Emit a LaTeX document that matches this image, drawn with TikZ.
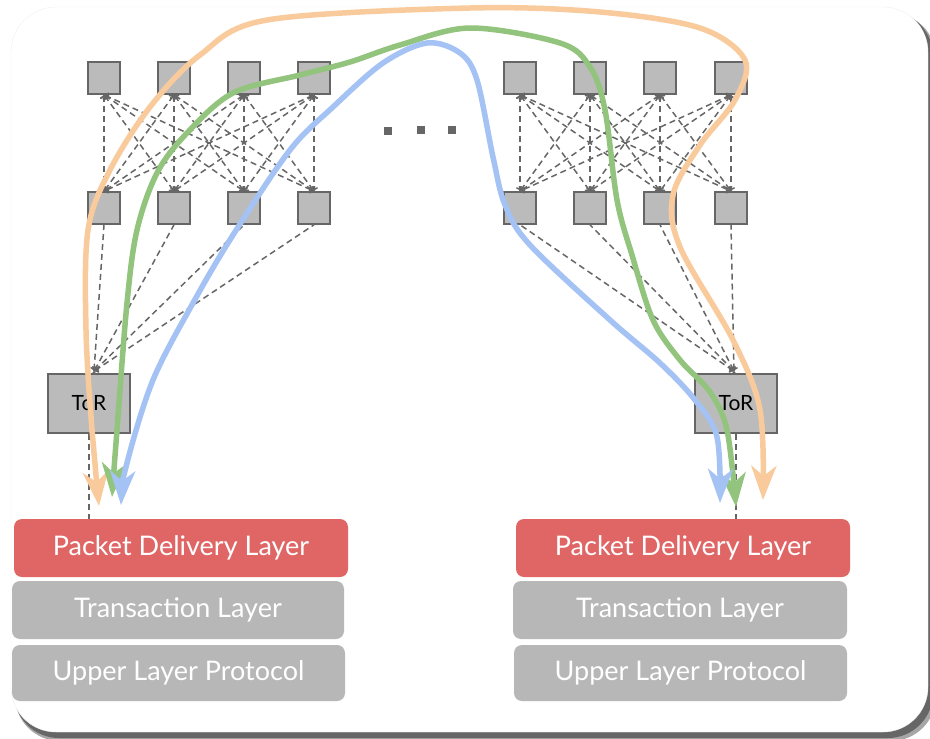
\documentclass[tikz,border=0pt]{standalone}
\usepackage{fontspec}
\setmainfont{Lato}
\usetikzlibrary{arrows.meta}

\definecolor{swgray}{HTML}{BBBBBB}
\definecolor{swline}{HTML}{666666}
\definecolor{pdred}{HTML}{E06666}
\definecolor{laygray}{HTML}{B7B7B7}
\definecolor{flowor}{HTML}{F9CB9C}
\definecolor{flowgr}{HTML}{93C47D}
\definecolor{flowbl}{HTML}{A4C2F4}

\tikzset{
  sw/.style={draw=swline, fill=swgray, line width=1.6pt, minimum size=32pt, inner sep=0pt},
  tor/.style={sw, minimum width=82pt, minimum height=59pt, font=\fontsize{21}{24}\selectfont},
  dot/.style={fill=swline, minimum size=8pt, inner sep=0pt},
  mesh/.style={draw=swline, dash pattern=on 6pt off 4pt, line width=1.5pt, {To[length=4pt,width=8pt]}-{To[length=4pt,width=8pt]}},
  uplink/.style={draw=swline, dash pattern=on 6pt off 4pt, line width=1.5pt, {To[length=4pt,width=8pt]}-},
  downlink/.style={draw=swline, dash pattern=on 6pt off 4pt, line width=1.5pt},
  layer/.style={rounded corners=8pt, minimum height=58pt, text=white, font=\fontsize{27}{32}\selectfont},
  flow/.style={line width=5.5pt, {Stealth[length=34pt,width=25pt,inset=10pt]}-{Stealth[length=34pt,width=25pt,inset=10pt]}},
}

\begin{document}
\begin{tikzpicture}[x=1pt,y=-1pt]
  \useasboundingbox (0,0) rectangle (930,739);
  % frame
  \fill[black!35, rounded corners=45pt] (15,13) rectangle (936,741);
  \fill[black!60, rounded corners=45pt] (14,11) rectangle (933,738);
  \filldraw[fill=white, draw=black!6, rounded corners=45pt] (11,7) rectangle (928,732);
  % left spines
  \node[sw] (ls1) at (104,78) {};
  \node[sw] (ls2) at (174,78) {};
  \node[sw] (ls3) at (244,78) {};
  \node[sw] (ls4) at (314,78) {};
  % left leaves
  \node[sw] (ll1) at (104,208) {};
  \node[sw] (ll2) at (174,208) {};
  \node[sw] (ll3) at (244,208) {};
  \node[sw] (ll4) at (314,208) {};
  % right spines
  \node[sw] (rs1) at (520,78) {};
  \node[sw] (rs2) at (590,78) {};
  \node[sw] (rs3) at (660,78) {};
  \node[sw] (rs4) at (731,78) {};
  % right leaves
  \node[sw] (rl1) at (520,208) {};
  \node[sw] (rl2) at (590,208) {};
  \node[sw] (rl3) at (660,208) {};
  \node[sw] (rl4) at (731,208) {};
  % more pods
  \node[dot] (dot1) at (388,131) {};
  \node[dot] (dot2) at (421,130) {};
  \node[dot] (dot3) at (452,130) {};
  % tors
  \node[tor] (torL) at (89,403.5) {ToR};
  \node[tor] (torR) at (736,403.5) {ToR};
  % host stacks
  \node[layer, fill=pdred, minimum width=334pt] (pdL) at (181,548) {Packet Delivery Layer};
  \node[layer, fill=laygray, minimum width=332pt] (trL) at (178,610) {Transaction Layer};
  \node[layer, fill=laygray, minimum width=333pt, minimum height=56pt] (upL) at (178.5,673) {Upper Layer Protocol};
  \node[layer, fill=pdred, minimum width=334pt] (pdR) at (683,548) {Packet Delivery Layer};
  \node[layer, fill=laygray, minimum width=334pt] (trR) at (680,610) {Transaction Layer};
  \node[layer, fill=laygray, minimum width=333pt, minimum height=56pt] (upR) at (680.5,673) {Upper Layer Protocol};
  % left mesh
  \path[mesh] (ls1.south) edge (ll1.north) edge (ll2.north) edge (ll3.north) edge (ll4.north);
  \path[mesh] (ls2.south) edge (ll1.north) edge (ll2.north) edge (ll3.north) edge (ll4.north);
  \path[mesh] (ls3.south) edge (ll1.north) edge (ll2.north) edge (ll3.north) edge (ll4.north);
  \path[mesh] (ls4.south) edge (ll1.north) edge (ll2.north) edge (ll3.north) edge (ll4.north);
  % right mesh
  \path[mesh] (rs1.south) edge (rl1.north) edge (rl2.north) edge (rl3.north) edge (rl4.north);
  \path[mesh] (rs2.south) edge (rl1.north) edge (rl2.north) edge (rl3.north) edge (rl4.north);
  \path[mesh] (rs3.south) edge (rl1.north) edge (rl2.north) edge (rl3.north) edge (rl4.north);
  \path[mesh] (rs4.south) edge (rl1.north) edge (rl2.north) edge (rl3.north) edge (rl4.north);
  % leaf to tor
  \coordinate (torLin) at ([xshift=5pt,yshift=2pt]torL.north);
  \coordinate (torRin) at ([xshift=-2pt,yshift=2pt]torR.north);
  \path[uplink] (torLin) edge (ll1.south) edge (ll2.south) edge (ll3.south) edge (ll4.south);
  \path[uplink] (torRin) edge (rl1.south) edge (rl2.south) edge (rl3.south) edge (rl4.south);
  % tor to host
  \draw[downlink] (torL.south) -- (torL.south |- pdL.north);
  \draw[downlink] (torR.south) -- (torR.south |- pdR.north);
  % flows
  \coordinate (oA) at (99,506);
  \coordinate (oB) at (763,500);
  \coordinate (gA) at (112,497);
  \coordinate (gB) at (736,507);
  \coordinate (bA) at (121,505);
  \coordinate (bB) at (720,503);
  \draw[flow, flowor] plot[smooth, tension=0.55] coordinates {(oA) (92,430) (86,330) (88,230) (110,170) (150,107) (200,55) (267,20) (470,8) (600,12) (700,28) (745,60) (735,100) (700,145) (673,195) (680,247) (733,340) (760,410) (oB)};
  \draw[flow, flowgr] plot[smooth, tension=0.55] coordinates {(gA) (117,430) (127,303) (137,230) (157,173) (187,133) (233,93) (300,75) (350,62) (400,45) (470,28) (560,43) (590,67) (605,110) (617,200) (632,255) (653,320) (680,360) (710,392) (727,430) (gB)};
  \draw[flow, flowbl] plot[smooth, tension=0.55] coordinates {(bA) (127,463) (153,380) (193,303) (233,235) (290,150) (333,107) (383,63) (427,43) (460,53) (477,80) (493,157) (505,205) (530,245) (610,320) (660,363) (695,400) (717,437) (bB)};
\end{tikzpicture}
\end{document}
